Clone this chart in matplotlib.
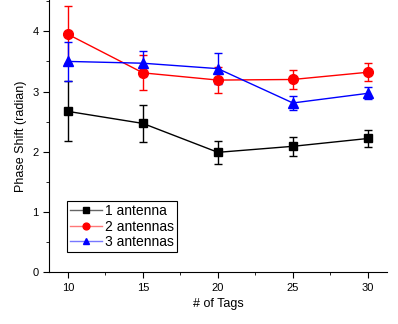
import matplotlib
matplotlib.use("Agg")
import matplotlib.pyplot as plt

plt.rcParams['font.family'] = ['Liberation Sans', 'DejaVu Sans']

tags = [10, 15, 20, 25, 30]
ant1 = [2.67, 2.47, 1.99, 2.09, 2.22]
ant1_err = [0.50, 0.31, 0.19, 0.16, 0.14]
ant2 = [3.95, 3.31, 3.19, 3.20, 3.32]
ant2_err = [0.47, 0.29, 0.22, 0.16, 0.15]
ant3 = [3.50, 3.47, 3.38, 2.81, 2.97]
ant3_err = [0.33, 0.21, 0.26, 0.12, 0.10]
labels = ['1 antenna', '2 antennas', '3 antennas']
colors = ['black', 'red', 'blue']
light = ['#666666', '#ff7777', '#7777ff']

fig = plt.figure(figsize=(3.98, 3.24), dpi=100)
ax = fig.add_axes([0.123, 0.160, 0.849, 0.840])

ax.errorbar(tags, ant1, yerr=ant1_err, color='black', marker='s', markersize=6,
            linewidth=1, capsize=3, elinewidth=1, label=labels[0])
ax.errorbar(tags, ant2, yerr=ant2_err, color='red', marker='o', markersize=7,
            linewidth=1, capsize=3, elinewidth=1, label=labels[1])
ax.errorbar(tags, ant3, yerr=ant3_err, color='blue', marker='^', markersize=7,
            linewidth=1, capsize=3, elinewidth=1, label=labels[2])

ax.set_xlim(8.73, 31.27)
ax.set_ylim(0, 4.52)
ax.set_xticks([10, 15, 20, 25, 30])
ax.set_xticks([12.5, 17.5, 22.5, 27.5], minor=True)
ax.set_yticks([0, 1, 2, 3, 4])
ax.set_yticks([0.5, 1.5, 2.5, 3.5, 4.5], minor=True)
ax.tick_params(axis='both', which='major', direction='out', length=4, labelsize=8)
ax.tick_params(axis='both', which='minor', direction='out', length=2.5)
ax.spines['top'].set_visible(False)
ax.spines['right'].set_visible(False)
ax.set_xlabel('# of Tags', fontsize=9)
ax.set_ylabel('Phase Shift (radian)', fontsize=9)

handles, _ = ax.get_legend_handles_labels()
handles = [h[0] for h in handles]
leg = ax.legend(handles, labels, loc='lower left', bbox_to_anchor=(0.053, 0.075), fontsize=10,
                frameon=True, fancybox=False, edgecolor='black', framealpha=1,
                handlelength=2.3, borderpad=0.2, labelspacing=0.1, handletextpad=0.25,
                markerscale=0.7, borderaxespad=0)
leg.get_frame().set_linewidth(0.8)
for line, c, lc in zip(leg.get_lines(), colors, light):
    line.set_color(lc)
    line.set_markerfacecolor(c)
    line.set_markeredgecolor(c)

fig.savefig('out.png', dpi=100)
